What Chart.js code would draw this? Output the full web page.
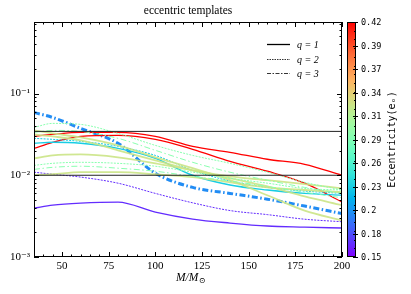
<!DOCTYPE html>
<html>
<head>
<meta charset="utf-8">
<script src="https://cdn.jsdelivr.net/npm/chart.js@4.4.1/dist/chart.umd.min.js"></script>
<style>
html, body { margin: 0; padding: 0; background: #fff; }
#wrap { width: 411px; height: 294px; }
</style>
</head>
<body>
<div id="wrap"><canvas id="chart"></canvas></div>
<script>
// masses (M/Msun) at which the curves were read
const masses = [35, 45, 60, 80, 100, 120, 140, 160, 180, 200];

// curves
const redUpper     = [0.0299, 0.0316, 0.0334, 0.0334, 0.0299, 0.0226, 0.0191, 0.0157, 0.0136, 0.0100];
const redLower     = [0.0213, 0.0253, 0.0299, 0.0307, 0.0275, 0.0208, 0.0148, 0.0112, 0.0080, 0.0047];
const blueDashDot  = [0.0586, 0.0509, 0.0374, 0.0246, 0.0106, 0.0071, 0.0060, 0.0051, 0.0042, 0.0034];
const cyanSolid    = [0.0246, 0.0253, 0.0246, 0.0213, 0.0161, 0.0100, 0.0076, 0.0066, 0.0060, 0.0057];
const cyanDotted   = [0.0283, 0.0275, 0.0260, 0.0226, 0.0175, 0.0115, 0.0085, 0.0071, 0.0064, 0.0060];
const purpleSolid  = [0.00396, 0.00431, 0.00456, 0.00469, 0.00354, 0.00291, 0.00260, 0.00239, 0.00232, 0.00226];
const purpleDotted = [0.0109, 0.0103, 0.0095, 0.0080, 0.0060, 0.0046, 0.0037, 0.0033, 0.0029, 0.0027];
const green1       = [0.0354, 0.0325, 0.0290, 0.0232, 0.0166, 0.0122, 0.0087, 0.0057, 0.0037, 0.0028];
const green2       = [0.0316, 0.0299, 0.0267, 0.0202, 0.0152, 0.0115, 0.0092, 0.0073, 0.0055, 0.0043];
const green3       = [0.0161, 0.0175, 0.0180, 0.0166, 0.0140, 0.0115, 0.0097, 0.0087, 0.0078, 0.0069];
const green4       = [0.0100, 0.0103, 0.0109, 0.0109, 0.0103, 0.0095, 0.0082, 0.0071, 0.0066, 0.0062];
const greenDot1    = [0.0385, 0.0431, 0.0419, 0.0325, 0.0232, 0.0175, 0.0140, 0.0109, 0.0082, 0.0066];
const greenDot2    = [0.0334, 0.0354, 0.0344, 0.0283, 0.0202, 0.0144, 0.0109, 0.0087, 0.0071, 0.0060];
const greenDot3    = [0.0132, 0.0140, 0.0144, 0.0140, 0.0129, 0.0109, 0.0092, 0.0080, 0.0069, 0.0066];
const greenDot4    = [0.0118, 0.0125, 0.0129, 0.0122, 0.0112, 0.0097, 0.0085, 0.0073, 0.0062, 0.0053];

// horizontal reference levels
const refLevels = [0.0344, 0.01];

// eccentricity and mass ratio of every curve
const curves = [
    { name: 'greenDot1', values: greenDot1, ecc: 0.29, q: 2 },
    { name: 'greenDot2', values: greenDot2, ecc: 0.29, q: 3 },
    { name: 'greenDot3', values: greenDot3, ecc: 0.29, q: 2 },
    { name: 'greenDot4', values: greenDot4, ecc: 0.29, q: 3 },
    { name: 'green1', values: green1, ecc: 0.325, q: 1 },
    { name: 'green2', values: green2, ecc: 0.325, q: 1 },
    { name: 'green3', values: green3, ecc: 0.325, q: 1 },
    { name: 'green4', values: green4, ecc: 0.325, q: 1 },
    { name: 'cyanDotted', values: cyanDotted, ecc: 0.23, q: 2 },
    { name: 'cyanSolid', values: cyanSolid, ecc: 0.23, q: 1 },
    { name: 'purpleDotted', values: purpleDotted, ecc: 0.165, q: 2 },
    { name: 'purpleSolid', values: purpleSolid, ecc: 0.165, q: 1 },
    { name: 'redUpper', values: redUpper, ecc: 0.42, q: 1 },
    { name: 'redLower', values: redLower, ecc: 0.42, q: 1 },
    { name: 'blueDashDot', values: blueDashDot, ecc: 0.2, q: 3 }
];

const xTicks = [50, 75, 100, 125, 150, 175, 200];
const yTicks = [0.001, 0.01, 0.1];
const yTickLabels = ['10\u207B\u00B3', '10\u207B\u00B2', '10\u207B\u00B9'];
const cbTicks = ['0.15', '0.18', '0.2', '0.23', '0.26', '0.29', '0.31', '0.34', '0.37', '0.39', '0.42'];
const legendLabels = ['q = 1', 'q = 2', 'q = 3'];
const eccMin = 0.15, eccMax = 0.42;

// styles
const dashByQ = { 1: [], 2: [2, 1.2], 3: [6, 2.5, 1.5, 2.5] };
const widthByName = { blueDashDot: 3, green1: 1.8, green2: 1.8, green3: 1.8, green4: 1.8, purpleSolid: 1.4, redUpper: 1.3, redLower: 1.3, cyanSolid: 1.4 };
const serif = '"Liberation Serif", "DejaVu Serif", serif';
const mono = '"DejaVu Sans Mono", monospace';

// matplotlib "rainbow" colormap
function rainbow(t, a) {
    const r = Math.min(1, Math.abs(2 * t - 0.5));
    const g = Math.sin(Math.PI * t);
    const b = Math.cos(Math.PI * t / 2);
    return `rgba(${Math.round(r * 255)}, ${Math.round(g * 255)}, ${Math.round(b * 255)}, ${a === undefined ? 1 : a})`;
}
function eccColor(e, a) {
    return rainbow((e - eccMin) / (eccMax - eccMin), a);
}

const datasets = [];
refLevels.forEach(v => {
    datasets.push({
        data: [{ x: 35, y: v }, { x: 200, y: v }],
        borderColor: '#222', borderWidth: 1, pointRadius: 0
    });
});
curves.forEach(c => {
    datasets.push({
        data: masses.map((m, i) => ({ x: m, y: c.values[i] })),
        borderColor: eccColor(c.ecc, c.name.startsWith('green') && c.q === 1 ? 0.9 : 1),
        borderWidth: widthByName[c.name] || 1,
        borderDash: dashByQ[c.q],
        pointRadius: 0,
        cubicInterpolationMode: 'monotone'
    });
});

// frame, inward ticks, title, legend, colorbar
const decorPlugin = {
    id: 'decor',
    afterDraw(chart) {
        const ctx = chart.ctx;
        const a = chart.chartArea;
        const xs = chart.scales.x, ys = chart.scales.y;
        ctx.save();
        ctx.strokeStyle = '#000';
        ctx.lineWidth = 1;
        ctx.strokeRect(a.left + 0.5, a.top + 0.5, a.right - a.left - 1, a.bottom - a.top - 1);

        ctx.beginPath();
        for (let v = 35; v <= 200; v += 5) {
            const px = Math.round(xs.getPixelForValue(v)) + 0.5;
            const len = v % 25 === 0 ? 5 : 2.5;
            ctx.moveTo(px, a.bottom); ctx.lineTo(px, a.bottom - len);
            ctx.moveTo(px, a.top); ctx.lineTo(px, a.top + len);
        }
        for (let d = -3; d <= -1; d++) {
            for (let m = 1; m <= 9; m++) {
                const v = m * Math.pow(10, d);
                if (v > ys.max) continue;
                const py = Math.round(ys.getPixelForValue(v)) + 0.5;
                const len = m === 1 ? 5 : 2.5;
                ctx.moveTo(a.left, py); ctx.lineTo(a.left + len, py);
                ctx.moveTo(a.right, py); ctx.lineTo(a.right - len, py);
            }
        }
        ctx.stroke();

        // title
        ctx.fillStyle = '#000';
        ctx.font = '11.5px ' + serif;
        ctx.textAlign = 'center';
        ctx.textBaseline = 'middle';
        ctx.fillText('eccentric templates', (a.left + a.right) / 2, 11);

        // x-axis label
        ctx.font = 'italic 11.5px ' + serif;
        ctx.textAlign = 'left';
        const lab = 'M/M';
        const w = ctx.measureText(lab).width;
        const x0 = (a.left + a.right) / 2 - 12;
        ctx.fillText(lab, x0, 278);
        ctx.font = '8px ' + serif;
        ctx.fillText('\u2299', x0 + w + 0.5, 281);

        // legend
        const ly = [44, 59, 73];
        ctx.font = 'italic 10px ' + serif;
        legendLabels.forEach((t, i) => {
            ctx.beginPath();
            ctx.setLineDash(dashByQ[i + 1].length ? (i === 1 ? [1.5, 1] : [4, 1.5, 1.5, 1.5]) : []);
            ctx.lineWidth = i === 0 ? 1.3 : 0.8;
            ctx.strokeStyle = '#000';
            ctx.moveTo(267, ly[i] + 0.5); ctx.lineTo(290, ly[i] + 0.5);
            ctx.stroke();
            ctx.setLineDash([]);
            ctx.fillText(t, 297, ly[i] + 1);
        });

        // colorbar
        const cbL = 347, cbR = 356, cbT = a.top, cbB = a.bottom;
        const grad = ctx.createLinearGradient(0, cbB, 0, cbT);
        for (let k = 0; k <= 20; k++) grad.addColorStop(k / 20, rainbow(k / 20));
        ctx.fillStyle = grad;
        ctx.fillRect(cbL, cbT, cbR - cbL, cbB - cbT);
        ctx.strokeStyle = '#000';
        ctx.lineWidth = 1;
        ctx.strokeRect(cbL + 0.5, cbT + 0.5, cbR - cbL - 1, cbB - cbT - 1);
        ctx.beginPath();
        for (let v = 0.15; v <= 0.4201; v += 0.01) {
            const py = Math.round(cbB - (v - eccMin) / (eccMax - eccMin) * (cbB - cbT)) + 0.5;
            ctx.moveTo(cbR - 2, py); ctx.lineTo(cbR, py);
        }
        ctx.stroke();
        ctx.font = '8.5px ' + mono;
        ctx.fillStyle = '#000';
        ctx.textAlign = 'left';
        ctx.textBaseline = 'middle';
        ctx.beginPath();
        cbTicks.forEach((t, i) => {
            const py = Math.round(cbB - i / (cbTicks.length - 1) * (cbB - cbT)) + 0.5;
            ctx.moveTo(cbR - 3, py); ctx.lineTo(cbR + 2, py);
            ctx.fillText(t, 361, py);
        });
        ctx.stroke();

        ctx.save();
        ctx.translate(392, (cbT + cbB) / 2);
        ctx.rotate(-Math.PI / 2);
        ctx.textAlign = 'center';
        ctx.font = '10px ' + mono;
        ctx.fillText('Eccentricity(e\u2092)', 0, 0);
        ctx.restore();
        ctx.restore();
    }
};

new Chart(document.getElementById('chart'), {
    type: 'line',
    data: { datasets: datasets },
    options: {
        responsive: true,
        maintainAspectRatio: false,
        animation: false,
        layout: { padding: { top: 22, right: 69, left: 0, bottom: 0 } },
        plugins: { legend: { display: false }, tooltip: { enabled: false } },
        scales: {
            x: {
                type: 'linear', min: 35, max: 200,
                afterBuildTicks: s => { s.ticks = xTicks.map(v => ({ value: v })); },
                afterFit: s => { s.height = 37; },
                grid: { display: false, drawTicks: false },
                border: { display: false },
                ticks: { color: '#000', padding: 3, font: { family: serif, size: 11 } }
            },
            y: {
                type: 'logarithmic', min: 0.001, max: 0.75,
                afterBuildTicks: s => { s.ticks = yTicks.map(v => ({ value: v })); },
                afterFit: s => { s.width = 34; },
                grid: { display: false, drawTicks: false },
                border: { display: false },
                ticks: {
                    color: '#000', padding: 4, font: { family: serif, size: 11 },
                    callback: (v) => yTickLabels[yTicks.findIndex(t => Math.abs(t - v) / t < 1e-6)] || ''
                }
            }
        }
    },
    plugins: [decorPlugin]
});
</script>
</body>
</html>
